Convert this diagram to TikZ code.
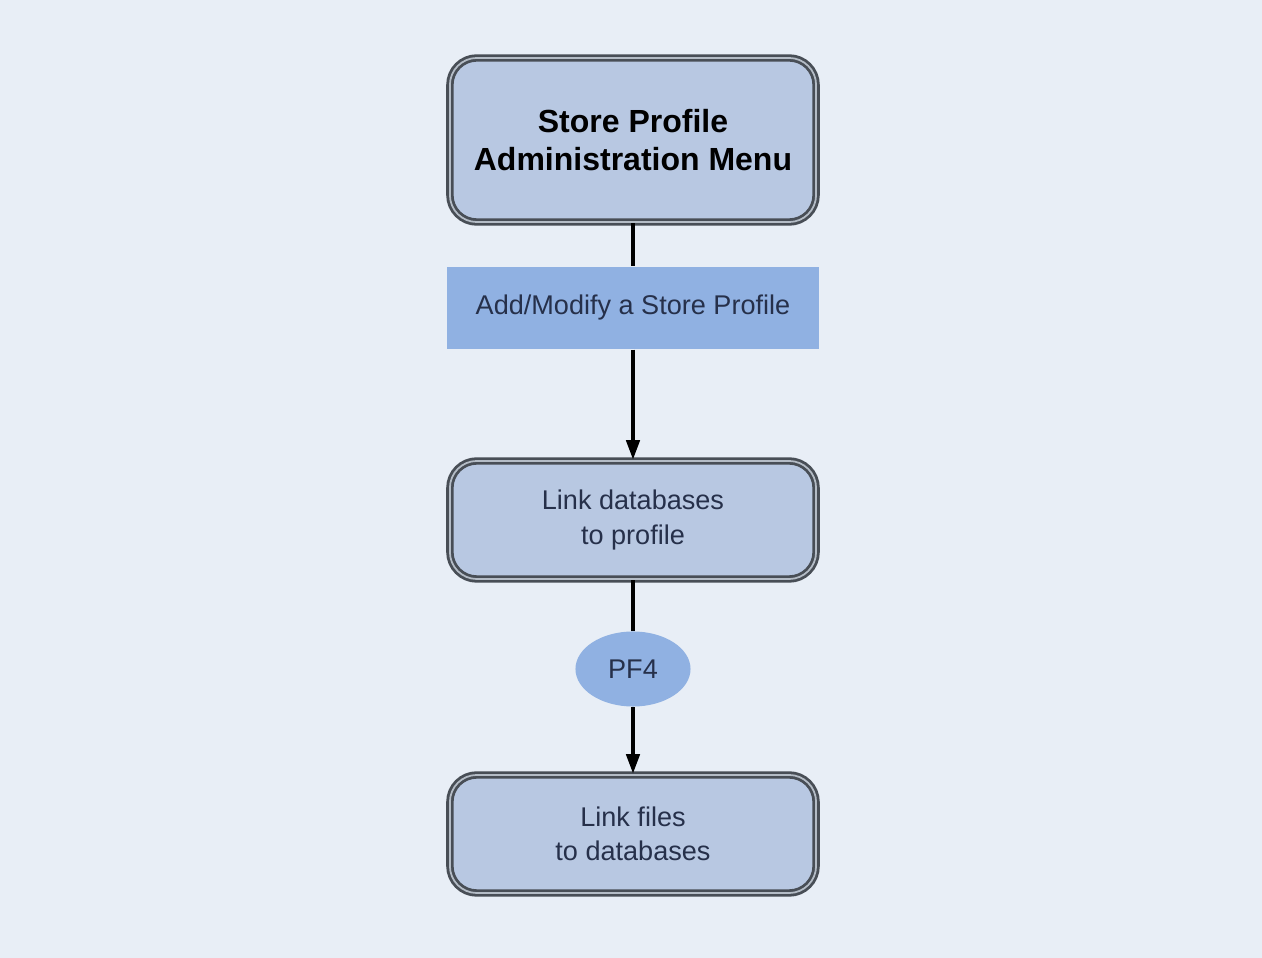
\documentclass[tikz,border=0pt]{standalone}
\usepackage{fontspec}
\setmainfont{Liberation Sans}
\usetikzlibrary{positioning, shapes.geometric, arrows.meta}

\definecolor{bgblue}{HTML}{E8EEF6}
\definecolor{boxfill}{HTML}{B8C8E2}
\definecolor{barfill}{HTML}{90B1E2}
\definecolor{framegray}{HTML}{484E56}
\definecolor{framelight}{HTML}{B4BCC6}
\definecolor{textnavy}{HTML}{26304A}

\begin{document}
\begin{tikzpicture}[x=0.01cm, y=-0.01cm,
    menubox/.style={draw=framegray, double=framelight, double distance=0.5pt,
        line width=0.8pt, rounded corners=0.27cm, fill=boxfill,
        minimum width=3.66cm, align=center, text=textnavy,
        font=\fontsize{7.7}{9.7}\selectfont},
    optionbar/.style={fill=barfill, minimum width=3.71cm, minimum height=0.82cm,
        text=textnavy, font=\fontsize{7.7}{9.7}\selectfont},
    keyoval/.style={ellipse, fill=barfill, minimum width=1.15cm, minimum height=0.75cm,
        inner sep=0pt, text=textnavy, font=\fontsize{7.7}{9.7}\selectfont},
    flow/.style={line width=0.95pt, black}]

    \fill[bgblue] (0, 0) rectangle (1262, 958);
    \useasboundingbox (0, 0) rectangle (1262, 958);

    \node[menubox, minimum height=1.64cm, text=black,
        font=\fontsize{9.1}{10.8}\selectfont\bfseries]
        (main_menu) at (633, 140) {Store Profile\\Administration Menu};
    \node[optionbar] (add_modify) at (633, 308) {Add/Modify a Store Profile};
    \node[menubox, minimum height=1.18cm] (link_db) at (633, 520) {Link databases\\to profile};
    \node[keyoval] (pf4) at (633, 669) {PF4};
    \node[menubox, minimum height=1.18cm] (link_files) at (633, 834) {Link files\\to databases};

    \draw[flow] (main_menu) -- (add_modify);
    \draw[flow, -{Triangle[length=5.5pt, width=3.8pt]}] (add_modify) -- (link_db);
    \draw[flow] (link_db) -- (pf4);
    \draw[flow, -{Triangle[length=5.5pt, width=3.8pt]}] (pf4) -- (link_files);
\end{tikzpicture}
\end{document}
